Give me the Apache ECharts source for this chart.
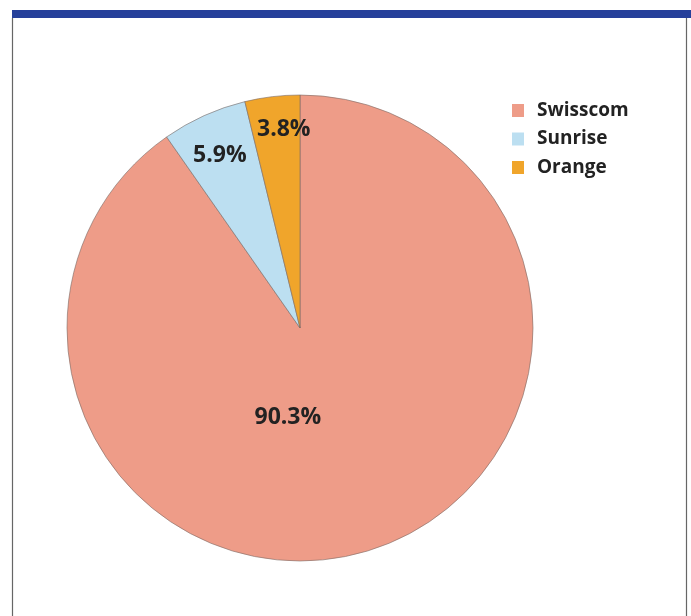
<!DOCTYPE html>
<html>
<head>
<meta charset="utf-8">
<script src="https://cdn.jsdelivr.net/npm/echarts@6/dist/echarts.min.js"></script>
<style>html,body{margin:0;padding:0;background:#fff}#c{width:691px;height:616px}</style>
</head>
<body>
<div id="c"></div>
<script>
const categories = ['Swisscom', 'Sunrise', 'Orange'];
const shares = [90.3, 5.9, 3.8];
const labels = ['90.3%', '5.9%', '3.8%'];

const colors = ['#EE9C88', '#BCDFF1', '#F0A52B'];
const labelOffsets = [[-48, -25], [-31, -64], [-2, -80]];

const chart = echarts.init(document.getElementById('c'), null, {renderer: 'canvas'});
chart.setOption({
  animation: false,
  backgroundColor: '#ffffff',
  graphic: [
    {type: 'rect', shape: {x: 12, y: 10, width: 679, height: 8}, style: {fill: '#26409A'}},
    {type: 'line', shape: {x1: 12.5, y1: 18, x2: 12.5, y2: 616}, style: {stroke: '#666', lineWidth: 1.2}},
    {type: 'line', shape: {x1: 686.5, y1: 18, x2: 686.5, y2: 616}, style: {stroke: '#666', lineWidth: 1.2}}
  ],
  legend: {
    orient: 'vertical',
    left: 507,
    top: 95,
    itemWidth: 12,
    itemHeight: 13,
    itemGap: 7.5,
    icon: 'rect',
    itemStyle: {borderWidth: 0},
    data: categories,
    textStyle: {
      fontFamily: 'Open Sans',
      fontWeight: 'bold',
      fontSize: 19,
      lineHeight: 21,
      color: '#222',
      padding: [0, 0, 0, 8]
    }
  },
  series: [{
    type: 'pie',
    center: [300, 328],
    radius: [0, 233],
    startAngle: 90,
    clockwise: true,
    avoidLabelOverlap: false,
    itemStyle: {borderColor: '#7a6a64', borderWidth: 0.6},
    emphasis: {disabled: true},
    label: {
      show: true,
      position: 'inside',
      fontFamily: 'Open Sans',
      fontWeight: 'bold',
      fontSize: 23,
      color: '#222'
    },
    labelLine: {show: false},
    data: categories.map((name, i) => ({
      name: name,
      value: shares[i],
      itemStyle: {color: colors[i]},
      label: {formatter: labels[i], offset: labelOffsets[i]}
    }))
  }]
});
</script>
</body>
</html>
